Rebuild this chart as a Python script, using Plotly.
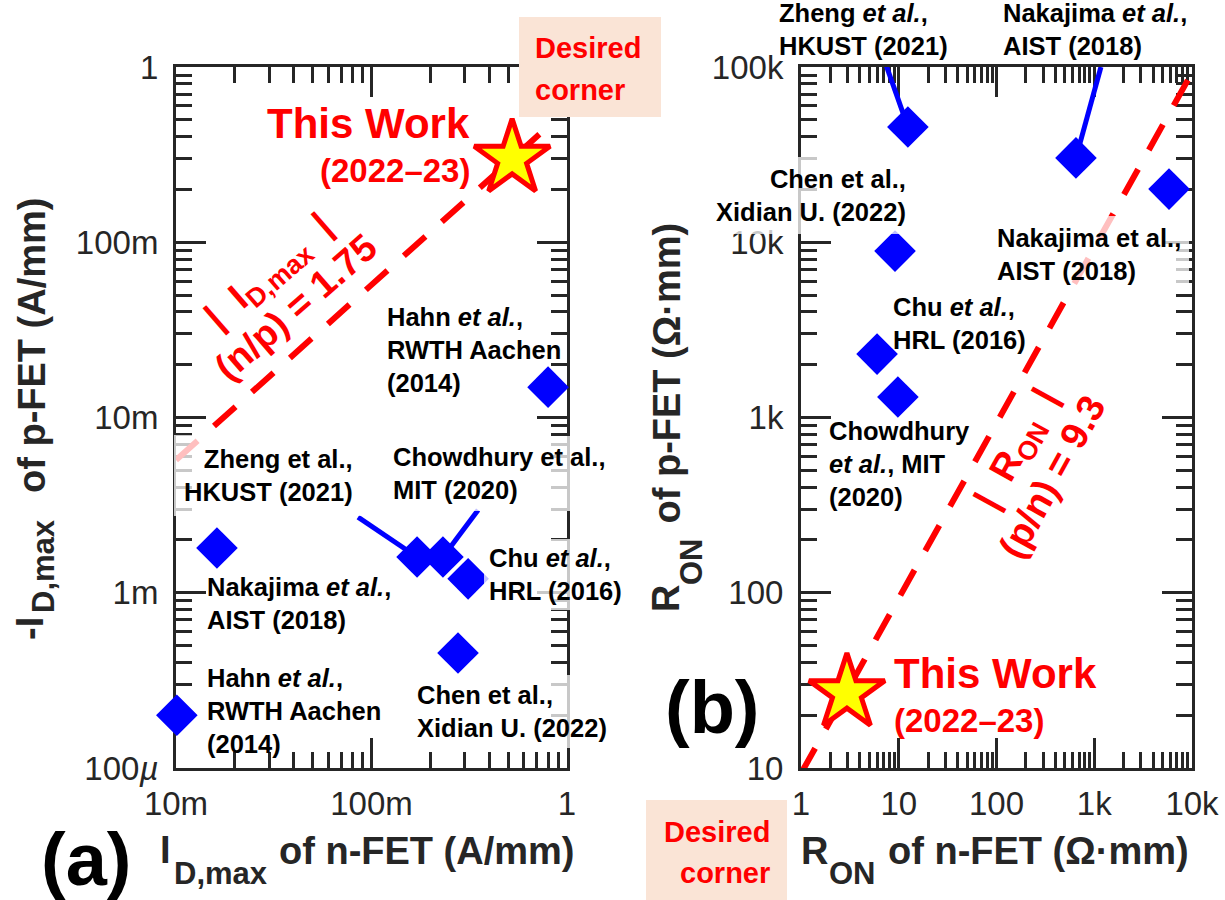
import plotly.graph_objects as go

W, H = 1225, 900
FONT = "Liberation Sans, Arial, sans-serif"
AX = "#262626"
BLUE = "#0000FF"
RED = "#FF0000"
FADE = "rgba(255,255,255,0.75)"

# ---------------- Panel (a): I_D,max (A/mm) ----------------
a_works = ["Hahn RWTH (2014) #1", "Zheng HKUST (2021)", "Chowdhury MIT (2020)",
           "Chu HRL (2016)", "Nakajima AIST (2018)", "Hahn RWTH (2014) #2",
           "Chen Xidian (2022)"]
a_n_idmax = [0.80, 0.171, 0.232, 0.312, 0.0162, 0.0101, 0.277]
a_p_idmax = [0.0149, 0.0016, 0.0016, 0.0012, 0.0018, 0.0002, 0.000453]
a_this_n = [0.524]
a_this_p = [0.30]
a_ratio = 1.75
a_ratio_x = [0.01, 0.77]
a_lead_zheng_x = [0.0853, 0.171]
a_lead_zheng_y = [0.0027, 0.0016]
a_lead_chow_x = [0.351, 0.232]
a_lead_chow_y = [0.00297, 0.0016]
a_xticks = [0.01, 0.1, 1]
a_xtext = ["10m", "100m", "1"]
a_yticks = [1e-4, 1e-3, 1e-2, 1e-1, 1]
a_ytext = ["100<i>\u00b5</i>", "1m", "10m", "100m", "1"]

# ---------------- Panel (b): R_ON (Ohm*mm) ----------------
b_works = ["Zheng HKUST (2021)", "Nakajima AIST (2018) #1", "Nakajima AIST (2018) #2",
           "Chen Xidian (2022)", "Chu HRL (2016)", "Chowdhury MIT (2020)"]
b_n_ron = [12.4, 650, 5820, 9.16, 6.0, 9.8]
b_p_ron = [45500, 30300, 20100, 8900, 2300, 1310]
b_this_n = [2.95]
b_this_p = [26.8]
b_ratio = 9.3
b_ratio_x = [1, 10000]
b_lead_zheng_x = [7.06, 12.4]
b_lead_zheng_y = [111000, 45500]
b_lead_naka_x = [1170, 650]
b_lead_naka_y = [100000, 30300]
b_xticks = [1, 10, 100, 1000, 10000]
b_xtext = ["1", "10", "100", "1k", "10k"]
b_yticks = [10, 100, 1000, 10000, 100000]
b_ytext = ["10", "100", "1k", "10k", "100k"]


def px(x):
    return x / W


def py(y):
    return 1 - y / H


fig = go.Figure()

# ---- traces panel (a)
fig.add_trace(go.Scatter(x=a_ratio_x, y=[v / a_ratio for v in a_ratio_x], mode="lines",
                         line=dict(color=RED, width=6, dash="29px,22px"),
                         xaxis="x", yaxis="y", showlegend=False))
for lx, ly in [(a_lead_zheng_x, a_lead_zheng_y), (a_lead_chow_x, a_lead_chow_y)]:
    fig.add_trace(go.Scatter(x=lx, y=ly, mode="lines", line=dict(color=BLUE, width=5),
                             xaxis="x", yaxis="y", showlegend=False))
fig.add_trace(go.Scatter(x=a_n_idmax, y=a_p_idmax, mode="markers", text=a_works,
                         marker=dict(symbol="diamond", size=32, color=BLUE, line=dict(width=0)),
                         xaxis="x", yaxis="y", showlegend=False, cliponaxis=False))
fig.add_trace(go.Scatter(x=a_this_n, y=a_this_p, mode="markers",
                         marker=dict(symbol="star", size=57, color="#FFFF00",
                                     line=dict(color=RED, width=5)),
                         xaxis="x", yaxis="y", showlegend=False, cliponaxis=False))

# ---- traces panel (b)
fig.add_trace(go.Scatter(x=b_ratio_x, y=[v * b_ratio for v in b_ratio_x], mode="lines",
                         line=dict(color=RED, width=6, dash="29px,22px"),
                         xaxis="x2", yaxis="y2", showlegend=False))
for lx, ly in [(b_lead_zheng_x, b_lead_zheng_y), (b_lead_naka_x, b_lead_naka_y)]:
    fig.add_trace(go.Scatter(x=lx, y=ly, mode="lines", line=dict(color=BLUE, width=5),
                             xaxis="x2", yaxis="y2", showlegend=False, cliponaxis=False))
fig.add_trace(go.Scatter(x=b_n_ron, y=b_p_ron, mode="markers", text=b_works,
                         marker=dict(symbol="diamond", size=32, color=BLUE, line=dict(width=0)),
                         xaxis="x2", yaxis="y2", showlegend=False, cliponaxis=False))
fig.add_trace(go.Scatter(x=b_this_n, y=b_this_p, mode="markers",
                         marker=dict(symbol="star", size=57, color="#FFFF00",
                                     line=dict(color=RED, width=5)),
                         xaxis="x2", yaxis="y2", showlegend=False, cliponaxis=False))


def axis(domain, rng, tickvals, ticktext, anchor, standoff):
    return dict(type="log", domain=domain, range=rng, anchor=anchor, automargin=False,
                layer="below traces",
                showline=True, linewidth=3, linecolor=AX, mirror="allticks",
                ticks="inside", ticklen=30, tickwidth=3, tickcolor=AX,
                tickmode="array", tickvals=tickvals, ticktext=ticktext,
                tickfont=dict(family=FONT, size=33, color=AX),
                ticklabelstandoff=standoff,
                showgrid=False, zeroline=False,
                minor=dict(ticks="inside", ticklen=16, tickwidth=2.5, tickcolor=AX,
                           dtick="D1", showgrid=False))


ydom = [1 - 768 / H, 1 - 67 / H]
fig.update_layout(
    width=W, height=H, autosize=False,
    margin=dict(l=0, r=0, t=0, b=0, pad=0, autoexpand=False),
    paper_bgcolor="white", plot_bgcolor="white",
    xaxis=axis([176 / W, 567 / W], [-2, 0], a_xticks, a_xtext, "y", 4),
    yaxis=axis(ydom, [-4, 0], a_yticks, a_ytext, "x", 8),
    xaxis2=axis([801 / W, 1192 / W], [0, 4], b_xticks, b_xtext, "y2", 4),
    yaxis2=axis(ydom, [1, 5], b_yticks, b_ytext, "x2", 8),
)

shapes = [
    dict(type="rect", xref="paper", yref="paper", x0=px(519), x1=px(661), y0=py(117), y1=py(17),
         fillcolor="#FAE4D6", line=dict(width=0), layer="above"),
    dict(type="rect", xref="paper", yref="paper", x0=px(646), x1=px(787), y0=py(900), y1=py(800),
         fillcolor="#FAE4D6", line=dict(width=0), layer="above"),
]
fig.update_layout(shapes=shapes)

anns = []


def lab(text, x, y, xanchor="left", align="left", size=25.5, color="black", bg=None, pad=0,
        angle=0, family=FONT, weight="bold", yanchor="middle"):
    xx = x
    if xanchor == "left":
        xx = x - pad
    elif xanchor == "right":
        xx = x + pad
    a = dict(text=text, x=px(xx), y=py(y), xref="paper", yref="paper", xanchor=xanchor,
             yanchor=yanchor, align=align, showarrow=False, borderpad=pad, borderwidth=0,
             textangle=angle, font=dict(family=family, size=size, color=color, weight=weight))
    if bg:
        a["bgcolor"] = bg
    anns.append(a)


ET = "<i>et al.</i>"
# panel (a) labels
lab(f"Hahn {ET},<br>RWTH Aachen<br>(2014)", 387, 349.5)
lab("Zheng et al.,<br>HKUST (2021)", 353, 475, xanchor="right", align="right", bg=FADE, pad=10)
lab("Chowdhury et al.,<br>MIT (2020)", 393, 474, bg=FADE, pad=7)
lab(f"Chu {ET},<br>HRL (2016)", 489, 574.5, bg=FADE, pad=5)
lab(f"Nakajima {ET},<br>AIST (2018)", 207, 603.5)
lab(f"Hahn {ET},<br>RWTH Aachen<br>(2014)", 207, 711)
lab("Chen et al.,<br>Xidian U. (2022)", 417, 711.5, bg=FADE, pad=6)
lab("This Work", 470, 123, xanchor="right", size=42, color=RED)
lab("(2022\u201323)", 470, 170, xanchor="right", size=33, color=RED)
lab("|  I<sub>D,max</sub>  |", 270, 273, xanchor="center", size=38, color=RED, angle=-41)
lab("(n/p) = 1.75", 296, 307, xanchor="center", size=38, color=RED, angle=-41)
lab("Desired", 535, 48, size=29, color=RED)
lab("corner", 535, 90, size=29, color=RED)
lab("(a)", 86, 859, xanchor="center", size=74)
# axis titles (a)
lab("I", 160, 850, size=38, color=AX)
lab("D,max", 174, 873, size=31, color=AX)
lab("of n-FET (A/mm)", 279, 851, size=38, color=AX)
lab("-I", 30, 629, xanchor="center", size=38, color=AX, angle=-90)
lab("D,max", 43, 566, xanchor="center", size=31, color=AX, angle=-90)
lab("of p-FET (A/mm)", 32, 345, xanchor="center", size=38, color=AX, angle=-90)

# panel (b) labels
lab(f"Zheng {ET},<br>HKUST (2021)", 779, 30)
lab(f"Nakajima {ET},<br>AIST (2018)", 1003, 30)
lab("Chen et al.,<br>Xidian U. (2022)", 906, 196, xanchor="right", align="right", bg=FADE, pad=8)
lab("Nakajima et al.,<br>AIST (2018)", 997, 254.5, bg=FADE, pad=8)
lab(f"Chu {ET},<br>HRL (2016)", 893, 323.5)
lab(f"Chowdhury<br>{ET}, MIT<br>(2020)", 829, 464)
lab("This Work", 894, 673, size=42, color=RED)
lab("(2022\u201323)", 894, 720, size=33, color=RED)
lab("|  R<sub>ON</sub>  |", 1018, 450, xanchor="center", size=38, color=RED, angle=-61)
lab("(p/n) = 9.3", 1052, 477, xanchor="center", size=38, color=RED, angle=-61)
lab("Desired", 770, 832, xanchor="right", align="right", size=29, color=RED)
lab("corner", 770, 873, xanchor="right", align="right", size=29, color=RED)
lab("(b)", 712, 707, xanchor="center", size=74)
# axis titles (b)
lab("R", 801, 851, size=38, color=AX)
lab("ON", 829, 873, size=31, color=AX)
lab("of n-FET (\u03a9\u00b7mm)", 888, 851, size=38, color=AX)
lab("R", 666, 599, xanchor="center", size=38, color=AX, angle=-90)
lab("ON", 691, 562, xanchor="center", size=31, color=AX, angle=-90)
lab("of p-FET (\u03a9\u00b7mm)", 666, 373.5, xanchor="center", size=38, color=AX, angle=-90)

fig.update_layout(annotations=anns)
fig.write_html("out.html")
